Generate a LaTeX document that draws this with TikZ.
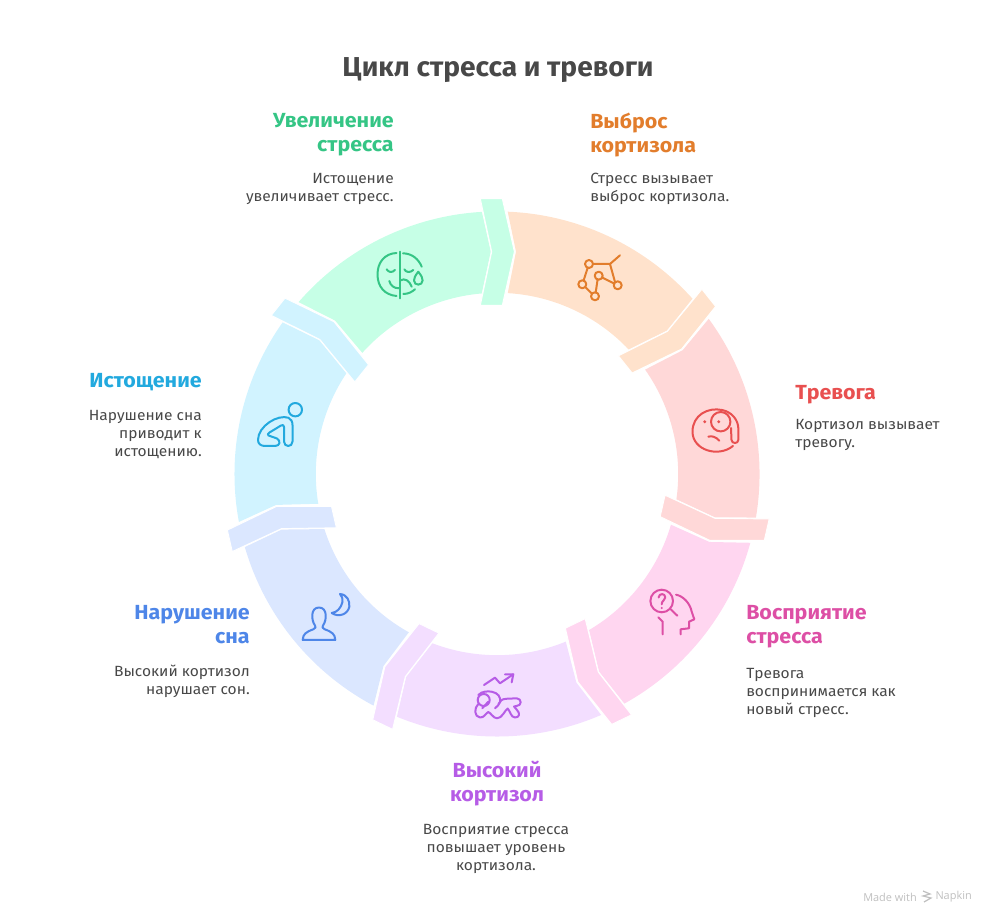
\documentclass[tikz,border=0pt]{standalone}
\usepackage{fontspec}
\setmainfont{Fira Sans}
\newfontfamily\headfont[FakeStretch=1.05]{Fira Sans Bold}
\newfontfamily\bodyfont[FakeStretch=1.05]{Fira Sans}
\newfontfamily\titlefont[FakeStretch=1.03]{Fira Sans Bold}
\newfontfamily\brandfont{Open Sans}
\definecolor{bgO}{HTML}{FFE2CC}\definecolor{fgO}{HTML}{E27D2C}
\definecolor{bgR}{HTML}{FFD8D8}\definecolor{fgR}{HTML}{E85050}
\definecolor{bgP}{HTML}{FFD6F0}\definecolor{fgP}{HTML}{DD4FA5}
\definecolor{bgV}{HTML}{F3DEFF}\definecolor{fgV}{HTML}{B65CE6}
\definecolor{bgB}{HTML}{DBE7FF}\definecolor{fgB}{HTML}{4E86E8}
\definecolor{bgC}{HTML}{D1F3FF}\definecolor{fgC}{HTML}{22A9DE}
\definecolor{bgG}{HTML}{C6FFE6}\definecolor{fgG}{HTML}{35C585}
\definecolor{ink}{HTML}{484848}
\newcommand{\ringpart}[2]{%
 \begin{scope}[shift={(497,450)},rotate={-51.4286*#1}]
  \fill[#2] (10.7,262.3) arc (87.66:41.91:197.06pt) -- (40.19:222.4) -- (43.41:181.2)
     arc (43.41:86.6:135.9pt) -- (19,222.3) -- cycle;
  \path[fill=#2,draw=white,line width=.7pt,rotate=-51.4286] (-16.7,275.4) -- (5.3,275.4) -- (17.4,222.3) -- (5.3,168.6) -- (-16.7,168.6) -- (-5.3,222.3) -- cycle;
 \end{scope}}
\tikzset{
 head/.style={inner sep=0pt,font=\headfont\fontsize{15.3}{18}\selectfont,execute at begin node={\rule{0pt}{12pt}}},
 body/.style={inner sep=0pt,text=ink,font=\bodyfont\fontsize{11.1}{13.5}\selectfont,execute at begin node={\rule{0pt}{9.5pt}}},
 icon/.style={draw=#1,line width=1.5pt,line cap=round,line join=round,fill=none},
}
\begin{document}
\begin{tikzpicture}[x=.75pt,y=.75pt]
\useasboundingbox (0,0) rectangle (996,924);
\ringpart{0}{bgO}
\ringpart{1}{bgR}
\ringpart{2}{bgP}
\ringpart{3}{bgV}
\ringpart{4}{bgB}
\ringpart{5}{bgC}
\ringpart{6}{bgG}
\begin{scope}[yscale=-1,shift={(0,-924)}]
% texts
\node[text=ink,inner sep=0pt,font=\titlefont\fontsize{20.5}{24}\selectfont] (title) at (498,70) {Цикл стресса и тревоги};
\node[head,text=fgG,align=right,anchor=north east] (hG) at (394,113) {Увеличение\\стресса};
\node[body,align=right,anchor=north east] (bG) at (394,172.8) {Истощение\\увеличивает стресс.};
\node[head,text=fgO,align=left,anchor=north west] (hO) at (590,113) {Выброс\\кортизола};
\node[body,align=left,anchor=north west] (bO) at (590,172.8) {Стресс вызывает\\выброс кортизола.};
\node[head,text=fgR,align=left,anchor=north west] (hR) at (795,383) {Тревога};
\node[body,align=left,anchor=north west] (bR) at (795,418.8) {Кортизол вызывает\\тревогу.};
\node[head,text=fgP,align=left,anchor=north west] (hP) at (746,605) {Восприятие\\стресса};
\node[body,align=left,anchor=north west] (bP) at (746,667.8) {Тревога\\воспринимается как\\новый стресс.};
\node[head,text=fgV,align=center,anchor=north] (hV) at (497,761) {Высокий\\кортизол};
\node[body,align=center,anchor=north] (bV) at (496,823.8) {Восприятие стресса\\повышает уровень\\кортизола.};
\node[head,text=fgB,align=right,anchor=north east] (hB) at (250,605) {Нарушение\\сна};
\node[body,align=right,anchor=north east] (bB) at (250,664.8) {Высокий кортизол\\нарушает сон.};
\node[head,text=fgC,align=right,anchor=north east] (hC) at (202,371) {Истощение};
\node[body,align=right,anchor=north east] (bC) at (202,409.8) {Нарушение сна\\приводит к\\истощению.};
\node[text=black!25,inner sep=0pt,anchor=east,font=\brandfont\fontsize{8.2}{10}\selectfont] (made) at (917,897) {Made with};
\node[text=black!25,inner sep=0pt,anchor=east,font=\brandfont\fontsize{8.2}{10}\selectfont] (nap) at (972,897) {Napkin};
\draw[black!25,line width=.9pt] (923,891) -- (930,894) -- (923,896) -- (931,898) -- (924,902);
% orange icon
\begin{scope}[every path/.style={icon=fgO}]
\draw (589,264) circle (4);\draw (582.3,284.3) circle (4);\draw (595,296.3) circle (4);\draw (598.7,275.7) circle (4);\draw (617.7,285.3) circle (4);
\draw (593,264) -- (610,264) -- (620,255.3);
\draw (610,264) -- (615,282);
\draw (602.2,277.5) -- (614.2,283.5);
\draw (597.6,279.5) -- (595.7,292.4);
\draw (587.6,268) -- (583.6,280.5);
\draw (585.2,287) -- (592,293.7);
\end{scope}
% red icon
\begin{scope}[every path/.style={icon=fgR}]
\draw (733,446) .. controls (718,458) and (692.5,450) .. (692.5,431.7) .. controls (692.5,415) and (708,407) .. (722,410)
  .. controls (732,412) and (738,420) .. (738.3,428) -- (738.3,440) .. controls (738,444) and (732,444) .. (731.5,440) -- (731,428);
\draw (720.7,421.7) circle (9.7);
\draw (708.3,436.7) .. controls (712,435.5) and (716,437) .. (719.3,440.7);
\fill[fgR,draw=none] (704.7,421.7) circle (1.6) (718.7,421.7) circle (1.6);
\end{scope}
% pink icon
\begin{scope}[every path/.style={icon=fgP}]
\draw (661.7,601) circle (11.3);
\draw (670.7,609.3) -- (677.3,615.7);
\draw (658.6,597.5) .. controls (658.8,593) and (665.5,593) .. (665.3,597.5) .. controls (665.2,600.5) and (661.7,600.5) .. (661.7,604.3);
\fill[fgP,draw=none] (661.7,608) circle (1.1);
\draw (676,594.7) .. controls (683,596) and (690,603) .. (691.7,611.7) -- (694.3,619.3) -- (689,621.7) -- (689,628.3) -- (680.7,629.3) -- (680.7,634.3);
\draw (658.3,617.3) -- (662.7,621.7) -- (662.7,634.3);
\end{scope}
% violet icon
\begin{scope}[every path/.style={icon=fgV}]
\draw (484,685) -- (495,677.7) -- (500,683.3) -- (513.3,674.3);
\draw (505,674.3) -- (513.3,674.3) -- (511.7,682.3);
\draw (483.7,700) circle (6);
\draw (478.3,704) .. controls (474,708) and (474,716.7) .. (480,717.5) .. controls (484,718) and (486,713) .. (488.3,712)
  .. controls (491,713) and (493,718) .. (497,718.3) .. controls (502,718.5) and (505,710) .. (507.7,708.5)
  .. controls (510,711) and (511,717.5) .. (515,717.5) .. controls (520,717.5) and (520,713) .. (517,710) -- (514,706.5)
  -- (516.5,706) .. controls (522,706) and (522,698.5) .. (516.7,698.3) -- (506,698.8) .. controls (502,699) and (500,701) .. (498.5,704);
\draw (478.3,695) .. controls (482,691) and (488,691) .. (492,691.8) .. controls (498,693) and (501,697) .. (500,702) .. controls (499.5,704.5) and (497,706.5) .. (495,708.3);
\draw (488.3,701.7) -- (482.3,708.3);
\end{scope}
% blue icon
\begin{scope}[every path/.style={icon=fgB}]
\draw (302.7,640) .. controls (303,634) and (306,632) .. (313.3,629.3) .. controls (316,628) and (316,627) .. (315,625.5) .. controls (311,620) and (310.5,607.5) .. (319,607.5) .. controls (327.5,607.5) and (327,620) .. (323,625.5) .. controls (322,627) and (322,628) .. (324.7,629.3) .. controls (332,632) and (335,634) .. (335.3,640) -- cycle;
\draw (340,594) .. controls (347,594.5) and (350,601) .. (349.3,606.7) .. controls (348,614) and (339,618) .. (331.7,613) .. controls (337,612.5) and (341,608) .. (342.5,602) .. controls (343,599) and (342,596) .. (340,594) -- cycle;
\end{scope}
% cyan icon
\begin{scope}[every path/.style={icon=fgC}]
\draw (295.3,409.7) circle (6.7);
\draw (288.5,417.8) .. controls (278,414) and (258,426) .. (258,440) .. controls (258,444) and (261,446) .. (265,446) -- (275,446)
  .. controls (280,446) and (281,441) .. (277,438.5) -- (268.5,435.5) .. controls (267,435) and (268,433.5) .. (269.5,432.5) -- (281,425.5)
  .. controls (282.5,424.5) and (284,425) .. (284,427) -- (284,441.5) .. controls (284,447.5) and (292.5,447.5) .. (292.5,441.5) -- (292.5,425) .. controls (292.5,421.5) and (291,419) .. (288.5,417.8);
\end{scope}
% green icon
\begin{scope}[every path/.style={icon=fgG}]
\draw (400,251.7) -- (400,298.3);
\draw (396.5,253) .. controls (385,253.5) and (377.5,262) .. (377.5,274.5) .. controls (377.5,287) and (385,295) .. (396.5,296);
\draw (403,253.3) .. controls (412,253.5) and (418.5,259) .. (421.7,266.7);
\draw (403.3,294) .. controls (408,294) and (412,292) .. (415,289.3);
\draw (418.3,271.7) .. controls (415,276) and (414,278) .. (414,280.5) .. controls (414,286) and (422.6,286) .. (422.6,280.5) .. controls (422.6,278) and (421.6,276) .. (418.3,271.7);
\draw (386.7,269.3) .. controls (388.5,272.5) and (392,273) .. (395,270);
\draw (404.3,269.3) .. controls (406,272.5) and (410,273) .. (413.3,270);
\draw (389.3,281) .. controls (390.5,285.5) and (394,288.5) .. (399.3,288.3);
\draw (400,280.5) .. controls (405,277.5) and (409.5,281) .. (411.7,286.7);
\end{scope}
\end{scope}
\end{tikzpicture}
\end{document}
